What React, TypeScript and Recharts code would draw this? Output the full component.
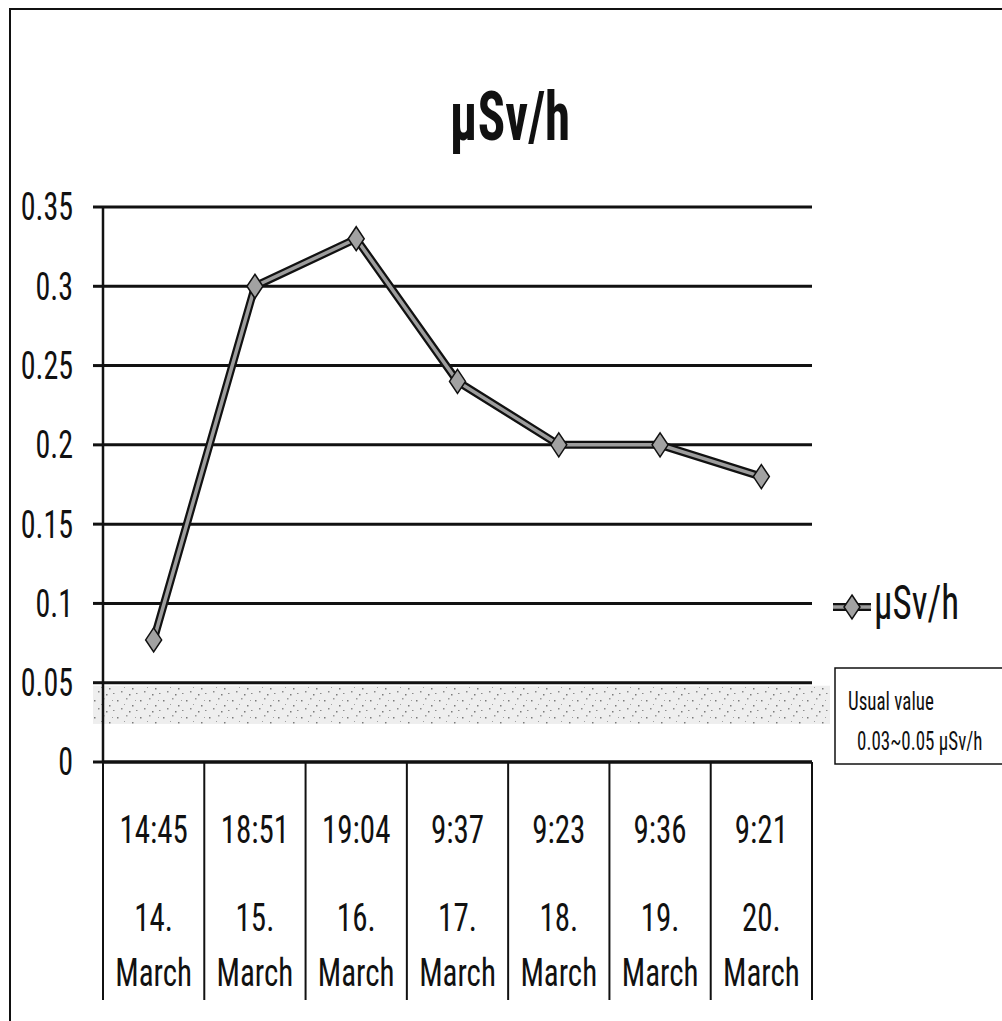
import { CartesianGrid, Line, LineChart, ReferenceArea, XAxis, YAxis } from "recharts";

const timeLabels = ["14:45", "18:51", "19:04", "9:37", "9:23", "9:36", "9:21"];
const dayLabels = ["14.", "15.", "16.", "17.", "18.", "19.", "20."];
const monthLabel = "March";
const doseValues = [0.077, 0.3, 0.33, 0.24, 0.2, 0.2, 0.18];
const yTicks = [0, 0.05, 0.1, 0.15, 0.2, 0.25, 0.3, 0.35];
// speckled "usual" band as drawn in the picture
const usualLow = 0.024;
const usualHigh = 0.05;
const seriesName = "µSv/h";

const data = timeLabels.map((time, i) => ({
  time,
  day: dayLabels[i],
  value: doseValues[i],
}));

const W = 1002;
const H = 1021;
const margin = { top: 207, right: 190, bottom: 0, left: 0 };
const yAxisW = 103;
const xAxisH = 259;
const bandW = (W - margin.left - margin.right - yAxisW) / timeLabels.length;

const FONT =
  "'Liberation Sans Narrow', 'Roboto Condensed', 'DejaVu Sans Condensed', 'Liberation Sans', sans-serif";

function Tall({ x, y, size, sy = 1.3, anchor = "start", bold = false, baseline, children }: any) {
  return (
    <text
      transform={`translate(${x},${y}) scale(1,${sy})`}
      fontSize={size}
      fontFamily={FONT}
      fontWeight={bold ? 700 : 400}
      textAnchor={anchor}
      dominantBaseline={baseline}
      fill="#111"
    >
      {children}
    </text>
  );
}

function YTick({ x, y, payload }: any) {
  return (
    <Tall x={x} y={y} size={30} sy={1.3} anchor="end" baseline="central">
      {String(payload.value)}
    </Tall>
  );
}

function XTick({ x, y, payload, index }: any) {
  const left = x - bandW / 2;
  const right = x + bandW / 2;
  const last = index === timeLabels.length - 1;
  return (
    <g>
      <line x1={left} y1={y} x2={left} y2={y + 238} stroke="#111" strokeWidth={2} />
      {last && <line x1={right} y1={y} x2={right} y2={y + 238} stroke="#111" strokeWidth={2} />}
      <Tall x={x} y={y + 68} size={31} sy={1.25} anchor="middle" baseline="central">
        {payload.value}
      </Tall>
      <Tall x={x} y={y + 156} size={31} sy={1.25} anchor="middle" baseline="central">
        {dayLabels[index]}
      </Tall>
      <Tall x={x} y={y + 211} size={31} sy={1.25} anchor="middle" baseline="central">
        {monthLabel}
      </Tall>
    </g>
  );
}

function Diamond({ cx, cy }: any) {
  if (cx == null || cy == null) return null;
  return (
    <path
      d={`M${cx},${cy - 12} L${cx + 8},${cy} L${cx},${cy + 12} L${cx - 8},${cy} Z`}
      fill="#a2a2a2"
      stroke="#111"
      strokeWidth={1.5}
    />
  );
}

function Band({ x, y, width, height }: any) {
  return <rect x={x - 10} y={y + 3} width={width + 28} height={height - 3} fill="url(#speckle)" />;
}

export default function App() {
  return (
    <div style={{ position: "relative", width: W, height: H, background: "#fff" }}>
      <style>{"body{margin:0;background:#fff}"}</style>
      <LineChart width={W} height={H} data={data} margin={margin}>
        <CartesianGrid vertical={false} stroke="#111" strokeWidth={3} />
        <ReferenceArea y1={usualLow} y2={usualHigh} shape={<Band />} />
        <XAxis
          dataKey="time"
          scale="band"
          height={xAxisH}
          axisLine={{ stroke: "#111", strokeWidth: 3 }}
          tickLine={false}
          tickSize={0}
          tickMargin={0}
          interval={0}
          tick={<XTick />}
        />
        <YAxis
          width={yAxisW}
          domain={[0, 0.35]}
          ticks={yTicks}
          axisLine={{ stroke: "#111", strokeWidth: 2.5 }}
          tickLine={{ stroke: "#111", strokeWidth: 3 }}
          tickSize={10}
          tickMargin={20}
          tick={<YTick />}
        />
        <Line
          dataKey="value"
          stroke="#111"
          strokeWidth={8}
          dot={false}
          isAnimationActive={false}
          legendType="none"
        />
        <Line
          dataKey="value"
          name={seriesName}
          stroke="#9d9d9d"
          strokeWidth={3.5}
          dot={<Diamond />}
          activeDot={false}
          isAnimationActive={false}
        />
      </LineChart>
      <svg
        width={W}
        height={H}
        style={{ position: "absolute", left: 0, top: 0, pointerEvents: "none" }}
      >
        <defs>
          <pattern id="speckle" width="23" height="17" patternUnits="userSpaceOnUse">
            <rect width="23" height="17" fill="#eeeeee" />
            <rect x="2" y="3" width="1.5" height="1.5" fill="#7a7a7a" />
            <rect x="11" y="1" width="1.5" height="1.5" fill="#999" />
            <rect x="17" y="8" width="1.5" height="1.5" fill="#7a7a7a" />
            <rect x="6" y="11" width="1.5" height="1.5" fill="#8a8a8a" />
            <rect x="14" y="14" width="1.5" height="1.5" fill="#7a7a7a" />
            <rect x="20" y="3" width="1" height="1" fill="#a0a0a0" />
            <rect x="9" y="7" width="1" height="1" fill="#a0a0a0" />
            <rect x="21" y="13" width="1.5" height="1" fill="#8a8a8a" />
          </pattern>
        </defs>
        <rect x={10} y={9} width={1000} height={1020} fill="none" stroke="#111" strokeWidth={2} />
        <Tall x={510} y={140} size={51} sy={1.35} anchor="middle" bold>
          {seriesName}
        </Tall>
        <line x1={833} y1={607} x2={871} y2={607} stroke="#111" strokeWidth={8} />
        <line x1={833} y1={607} x2={871} y2={607} stroke="#9d9d9d" strokeWidth={3.5} />
        <Diamond cx={852} cy={607} />
        <Tall x={874} y={619} size={37} sy={1.3}>
          {seriesName}
        </Tall>
        <rect x={835} y={668} width={200} height={96} fill="#fff" stroke="#111" strokeWidth={1.5} />
        <Tall x={848} y={710} size={19} sy={1.35}>
          Usual value
        </Tall>
        <Tall x={857} y={750} size={19} sy={1.35}>
          {"0.03~0.05 µSv/h"}
        </Tall>
      </svg>
    </div>
  );
}
